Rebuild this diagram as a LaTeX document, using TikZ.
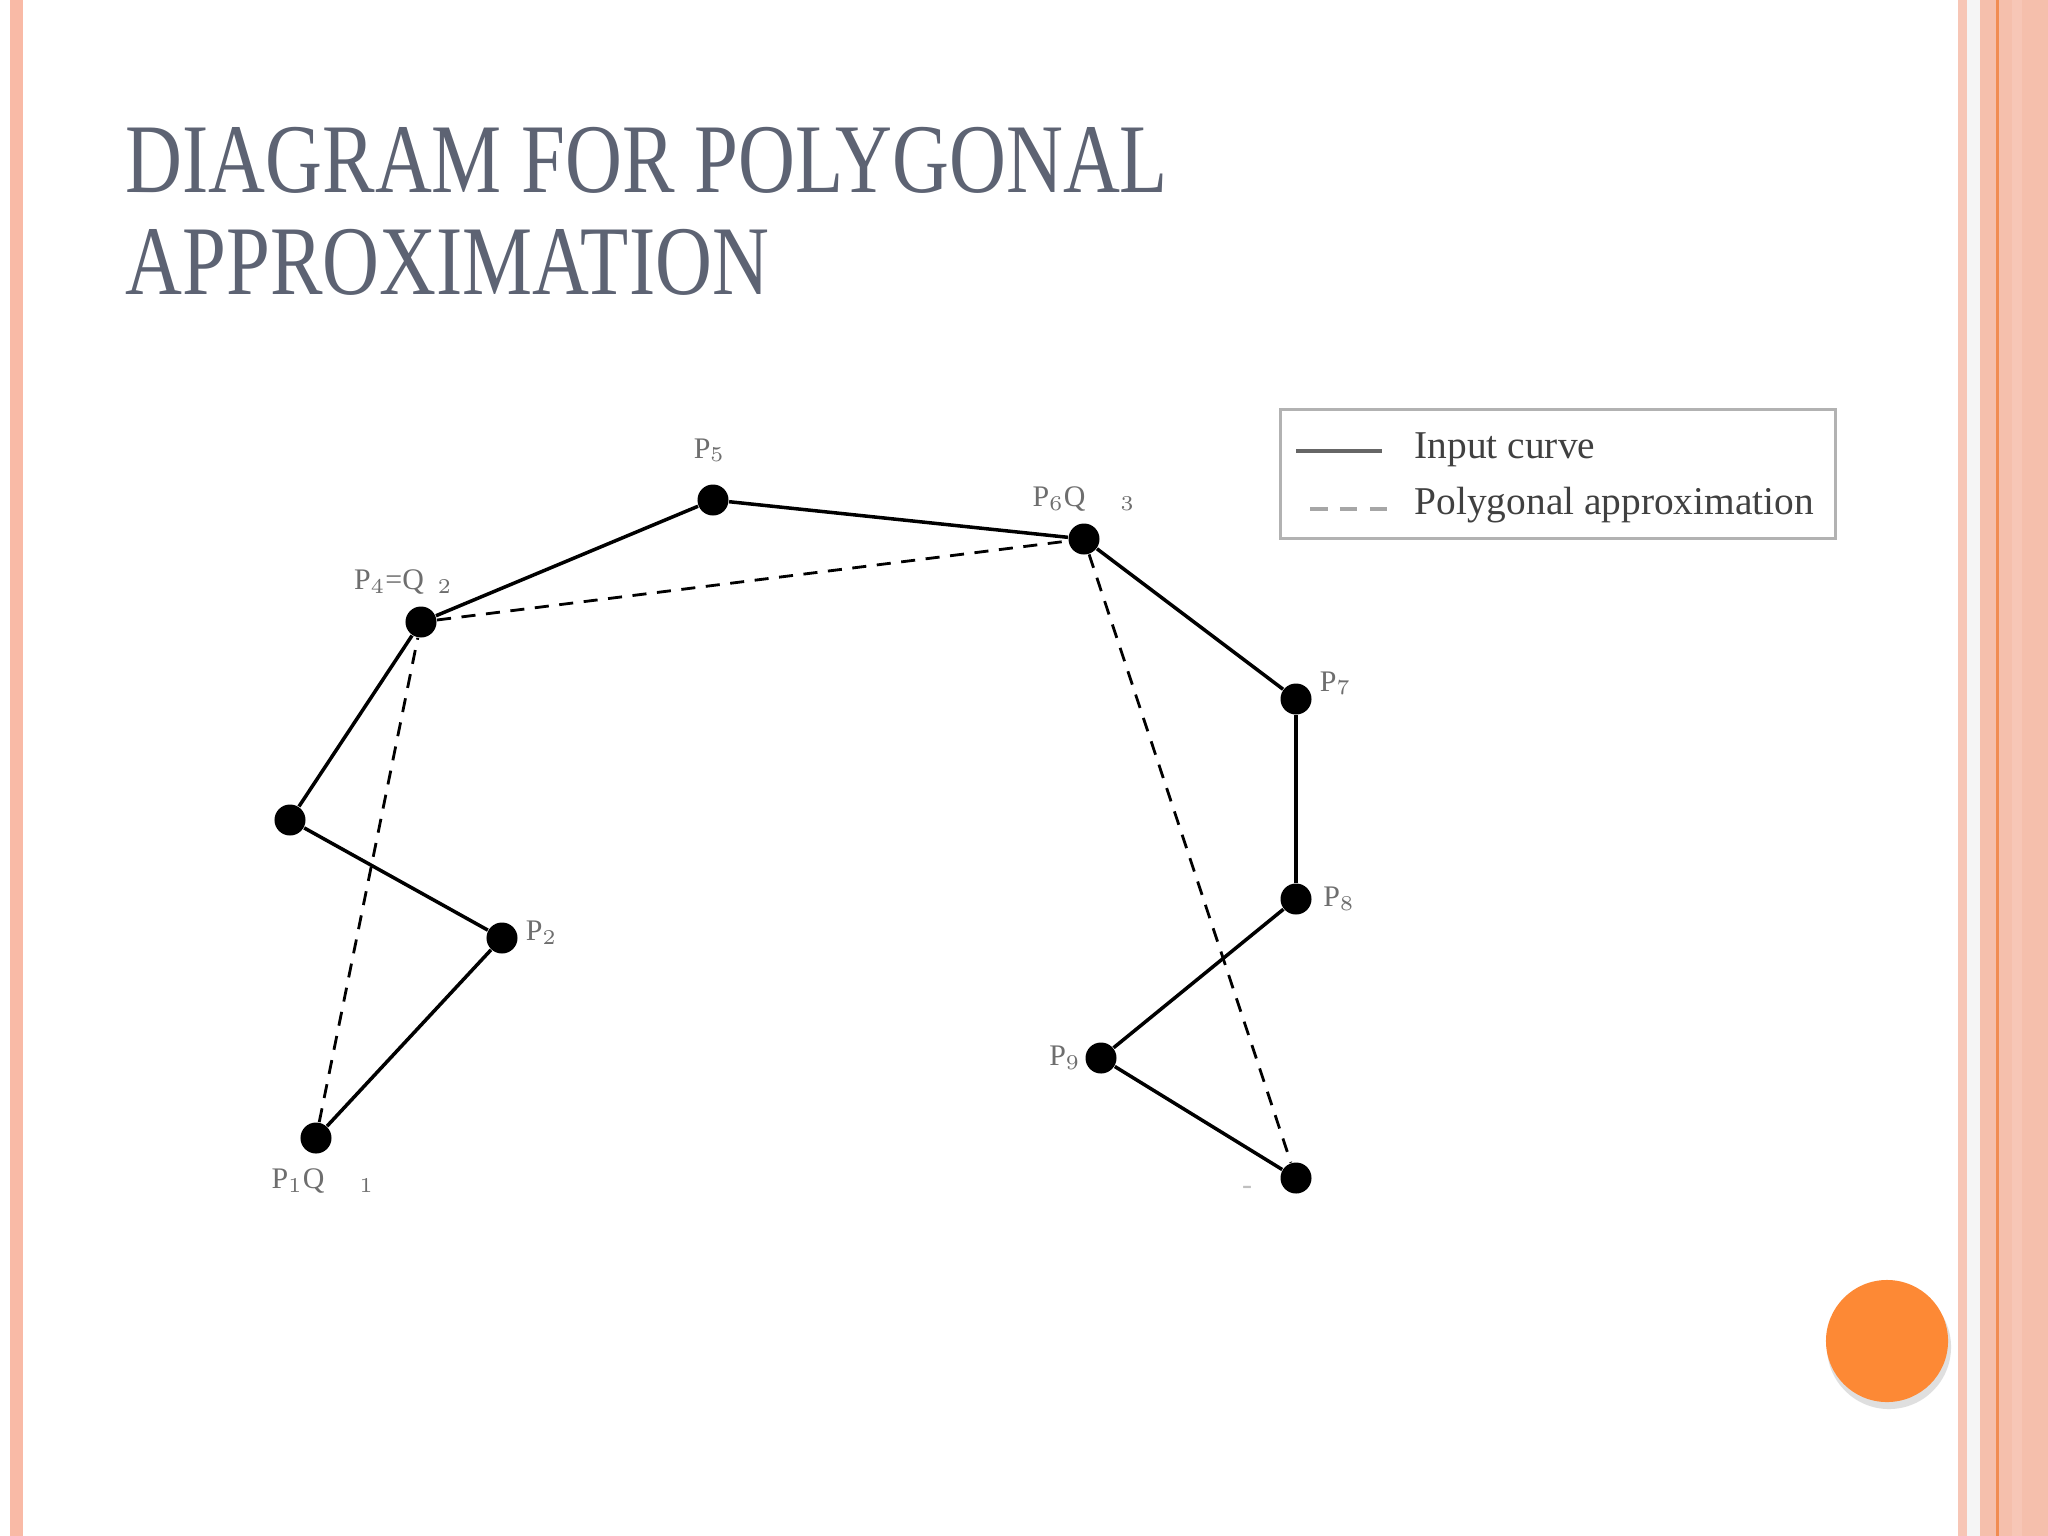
\documentclass[tikz,border=0pt]{standalone}
\usepackage{fontspec}
\setmainfont{Liberation Serif}
\newfontfamily\titlefont[FakeStretch=0.8]{Liberation Serif}
\usetikzlibrary{positioning}
\definecolor{stripelight}{RGB}{249,186,166}
\definecolor{stripepale}{RGB}{247,198,182}
\definecolor{stripemid}{RGB}{245,191,172}
\definecolor{stripeline}{RGB}{241,140,82}
\definecolor{titlegray}{RGB}{93,99,115}
\definecolor{btnorange}{RGB}{253,137,53}
\definecolor{lblgray}{RGB}{110,110,110}

\begin{document}
\begin{tikzpicture}[x=0.01cm,y=-0.01cm,
    dot/.style={circle,fill=black,inner sep=0pt,minimum size=0.31cm},
    lbl/.style={font=\fontsize{8.5}{9}\selectfont,text=lblgray,inner sep=1pt},
    curve/.style={line width=1pt},
    approx/.style={line width=0.8pt,dash pattern=on 4pt off 3pt},
    titletext/.style={font=\fontsize{28}{30}\selectfont\titlefont,text=titlegray,inner sep=0pt}]
    \useasboundingbox (0,0) rectangle (2048,1536);
    \fill[white] (0,0) rectangle (2048,1536);
    \fill[stripelight] (10,0) rectangle (23,1536);
    \fill[stripepale] (1958,0) rectangle (1967,1536);
    \fill[gray!8] (1967,0) rectangle (1980,1536);
    \fill[stripemid] (1980,0) rectangle (2048,1536);
    \fill[stripeline] (1996,0) rectangle (1999,1536);
    \fill[stripepale] (2012,0) rectangle (2022,1536);

    \node[titletext,anchor=base west] (title1) at (125,192) {DIAGRAM FOR POLYGONAL};
    \node[titletext,anchor=base west] (title2) at (125,294) {APPROXIMATION};

    \node[dot] (P1) at (316,1138) {};
    \node[dot] (P2) at (502,938) {};
    \node[dot] (P3) at (290,820) {};
    \node[dot] (P4) at (421,622) {};
    \node[dot] (P5) at (713,500) {};
    \node[dot] (P6) at (1084,539) {};
    \node[dot] (P7) at (1296,699) {};
    \node[dot] (P8) at (1296,899) {};
    \node[dot] (P9) at (1101,1058) {};
    \node[dot] (P10) at (1296,1178) {};

    \draw[curve]
    (P1) edge (P2)
    (P2) edge (P3)
    (P3) edge (P4)
    (P4) edge (P5)
    (P5) edge (P6)
    (P6) edge (P7)
    (P7) edge (P8)
    (P8) edge (P9)
    (P9) edge (P10);
    \draw[approx]
    (P1) edge (P4)
    (P4) edge (P6)
    (P6) edge (P10);

    \begin{scope}
    \clip (0,0) rectangle (2048,1195);
    \node[lbl,above=5pt of P5,xshift=-1pt] (L5) {P$_5$};
    \node[lbl,above=2pt of P6] (L6) {P$_6$Q\hskip 10pt$_3$};
    \node[lbl,right=1pt of P7,yshift=4.5pt] (L7) {P$_7$};
    \node[lbl,right=2pt of P8] (L8) {P$_8$};
    \node[lbl,left=0pt of P9] (L9) {P$_9$};
    \node[lbl,right=1pt of P2,yshift=1.5pt] (L2) {P$_2$};
    \node[lbl,above=2pt of P4,xshift=-5pt] (L4) {P$_4$=Q\hskip 4pt$_2$};
    \node[lbl,below=3pt of P1,xshift=2pt] (L1) {P$_1$Q\hskip 10pt$_1$};
    \node[lbl,below left=-2pt and 8pt of P10,text=gray!50] (L10) {-};
    \end{scope}

    \node[draw=gray!60,line width=1pt,minimum width=5.55cm,minimum height=1.29cm,inner sep=0pt] (legend) at (1558,474) {};
    \coordinate (s1a) at (1296,451);
    \coordinate (s1b) at (1382,451);
    \coordinate (s2a) at (1310,509);
    \coordinate (s2b) at (1387,509);
    \draw[curve,gray!80!black] (s1a) -- (s1b);
    \draw[line width=1pt,gray!70,dash pattern=on 5pt off 3.5pt] (s2a) -- (s2b);
    \node[anchor=base west,inner sep=0pt,font=\fontsize{11.2}{13}\selectfont,text=black!75] (in) at (1414,458) {Input curve};
    \node[anchor=base west,inner sep=0pt,font=\fontsize{11.2}{13}\selectfont,text=black!75] (pa) at (1414,514) {Polygonal approximation};

    \fill[gray!25] (1889,1347) circle (0.62cm);
    \node[circle,fill=btnorange,minimum size=1.22cm,inner sep=0pt] (btn) at (1887,1341) {};
\end{tikzpicture}
\end{document}
